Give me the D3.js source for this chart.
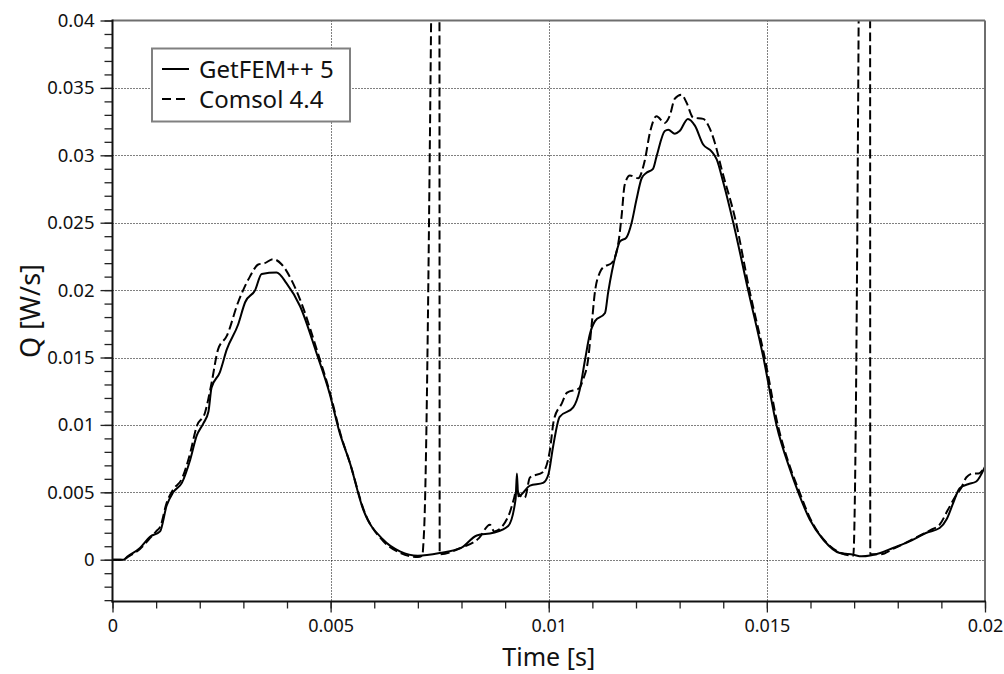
<!DOCTYPE html>
<html>
<head>
<meta charset="utf-8">
<script src="https://cdn.jsdelivr.net/npm/d3@7"></script>
<style>
body { margin: 0; background: #fff; }
text { font-family: "Noto Sans", sans-serif; fill: #111; }
</style>
</head>
<body>
<script>
//data: [time (s), Q (W/s)]
var getfem = [
    [0, 0], [0.00025, 0], [0.00035, 0.00025], [0.00063, 0.00087], [0.00086, 0.0017],
    [0.00109, 0.0021], [0.00124, 0.004], [0.00139, 0.005], [0.00159, 0.0057], [0.00178, 0.0074],
    [0.00193, 0.0092], [0.00208, 0.0101], [0.0022, 0.011], [0.00227, 0.01275], [0.00246, 0.0139],
    [0.00262, 0.0156], [0.00288, 0.01745], [0.00304, 0.0191], [0.00327, 0.02], [0.00342, 0.0212],
    [0.00376, 0.0213], [0.00399, 0.0205], [0.0043, 0.0188], [0.00468, 0.0153], [0.00498, 0.0123],
    [0.0052, 0.0095], [0.00544, 0.0072], [0.00575, 0.0037], [0.0062, 0.0015], [0.0066, 0.0006],
    [0.007, 0.0003], [0.0075, 0.0005], [0.008, 0.0009], [0.00835, 0.0018], [0.00873, 0.002],
    [0.00907, 0.0025], [0.00924, 0.0045], [0.00927, 0.0064], [0.0093, 0.0047], [0.00957, 0.0055],
    [0.00987, 0.0057], [0.00999, 0.0063], [0.0101, 0.0084], [0.01025, 0.0106], [0.01056, 0.0113],
    [0.01071, 0.0126], [0.01083, 0.0148], [0.01094, 0.0167], [0.01106, 0.0177], [0.01129, 0.0183],
    [0.01136, 0.0198], [0.01155, 0.0228], [0.01163, 0.0236], [0.01178, 0.0239], [0.0119, 0.025],
    [0.01201, 0.0267], [0.01213, 0.0283], [0.01224, 0.0287], [0.01239, 0.029], [0.01247, 0.0299],
    [0.01266, 0.0318], [0.01274, 0.0319], [0.01289, 0.0316], [0.013, 0.0318], [0.01319, 0.0327],
    [0.01335, 0.0322], [0.01354, 0.0308], [0.01373, 0.0303], [0.01385, 0.0297], [0.014, 0.028],
    [0.01423, 0.025], [0.01457, 0.02], [0.01492, 0.015], [0.01522, 0.01], [0.01553, 0.0067],
    [0.01572, 0.005], [0.01598, 0.003], [0.01629, 0.0015], [0.01667, 0.0005], [0.01698, 0.00037],
    [0.01717, 0.00025], [0.0176, 0.0005], [0.01789, 0.00087], [0.01827, 0.00136], [0.01866, 0.002],
    [0.01896, 0.00235], [0.01912, 0.003], [0.01927, 0.0042], [0.01942, 0.0053], [0.01961, 0.0056],
    [0.0198, 0.0058], [0.02, 0.0069]
];
var comsol = [
    [0, 0], [0.00025, 0], [0.00035, 0.0002], [0.00063, 0.0008], [0.00086, 0.0016],
    [0.001, 0.0021], [0.0011, 0.0025], [0.00124, 0.0042], [0.00139, 0.0052], [0.00159, 0.006],
    [0.00178, 0.0079], [0.00193, 0.0099], [0.00212, 0.0109], [0.00227, 0.0131], [0.00242, 0.0156],
    [0.00262, 0.0166], [0.00288, 0.0191], [0.00315, 0.021], [0.00334, 0.0219], [0.00349, 0.022],
    [0.00368, 0.0223], [0.00388, 0.0219], [0.00414, 0.0205], [0.0043, 0.0193], [0.0047, 0.0154],
    [0.005, 0.0122], [0.00522, 0.0094], [0.00545, 0.0071], [0.00577, 0.0036], [0.0062, 0.0014],
    [0.0066, 0.0005], [0.007, 0.0002], [0.0071, 0.0003], [0.00714, 0.002], [0.00749, 0.08],
    [0.0075, 0.0004], [0.008, 0.0009], [0.0084, 0.0016], [0.00865, 0.0026], [0.00875, 0.0021],
    [0.00907, 0.0032], [0.0092, 0.0045], [0.00926, 0.0052], [0.00933, 0.0048], [0.00945, 0.0046],
    [0.00957, 0.0061], [0.00987, 0.0065], [0.01002, 0.008], [0.01012, 0.0104], [0.0103, 0.0116],
    [0.01042, 0.0124], [0.01069, 0.0127], [0.01079, 0.0134], [0.0109, 0.0148], [0.01098, 0.0173],
    [0.01106, 0.0199], [0.01117, 0.0213], [0.01125, 0.0217], [0.01144, 0.022], [0.0116, 0.0236],
    [0.01167, 0.0255], [0.01174, 0.0278], [0.01186, 0.0285], [0.01205, 0.0283], [0.0122, 0.0296],
    [0.01232, 0.0317], [0.01247, 0.0329], [0.01266, 0.0324], [0.01277, 0.0329], [0.01289, 0.0342],
    [0.01304, 0.0345], [0.01316, 0.0339], [0.01331, 0.0328], [0.01354, 0.0327], [0.01366, 0.0322],
    [0.01381, 0.0309], [0.01396, 0.029], [0.01428, 0.0252], [0.0146, 0.02], [0.01495, 0.015],
    [0.01525, 0.01], [0.01555, 0.0067], [0.01575, 0.005], [0.016, 0.003], [0.0163, 0.0015],
    [0.0167, 0.0005], [0.01698, 0.0003], [0.01736, 0.16], [0.01737, 0.0004], [0.0176, 0.0004],
    [0.01789, 0.0008], [0.01827, 0.0014], [0.01875, 0.0022], [0.01896, 0.0026], [0.01915, 0.0037],
    [0.01934, 0.0048], [0.01945, 0.0053], [0.01957, 0.0061], [0.01973, 0.0064], [0.01985, 0.0064],
    [0.01996, 0.0067], [0.02, 0.0069]
];
var xTicks = [0, 0.005, 0.01, 0.015, 0.02];
var xTickLabels = ["0", "0.005", "0.01", "0.015", "0.02"];
var yTicks = [0, 0.005, 0.01, 0.015, 0.02, 0.025, 0.03, 0.035, 0.04];
var yTickLabels = ["0", "0.005", "0.01", "0.015", "0.02", "0.025", "0.03", "0.035", "0.04"];
var legendLabels = ["GetFEM++ 5", "Comsol 4.4"];

var width = 1004, height = 674;
var m = [20.5, 19, 72.5, 112.5]; //top right bottom left
var x0 = m[3], x1 = width - m[1], yTop = m[0], yBot = height - m[2];

//scales
var x = d3.scaleLinear().domain([0, 0.02]).range([x0, x1]);
var y = d3.scaleLinear().domain([-0.0031, 0.04]).range([yBot, yTop]);

var chart = d3.select("body").append("svg")
    .attr("width", width)
    .attr("height", height);

chart.append("defs").append("clipPath")
    .attr("id", "clip")
    .append("rect")
    .attr("x", x0).attr("y", yTop)
    .attr("width", x1 - x0).attr("height", yBot - yTop);

//dotted grid
chart.append("g").selectAll("line")
    .data(yTicks.filter(function (d) { return d < 0.04; }))
    .enter().append("line")
    .attr("x1", x0).attr("x2", x1)
    .attr("y1", function (d) { return Math.round(y(d)) + 0.5; })
    .attr("y2", function (d) { return Math.round(y(d)) + 0.5; })
    .attr("stroke", "#000").attr("stroke-dasharray", "1,2");
chart.append("g").selectAll("line")
    .data(xTicks.filter(function (d) { return d > 0 && d < 0.02; }))
    .enter().append("line")
    .attr("y1", yTop).attr("y2", yBot)
    .attr("x1", function (d) { return Math.round(x(d)) + 0.5; })
    .attr("x2", function (d) { return Math.round(x(d)) + 0.5; })
    .attr("stroke", "#000").attr("stroke-dasharray", "1,2");

//curves
var line = d3.line()
    .x(function (d) { return x(d[0]); })
    .y(function (d) { return y(d[1]); })
    .curve(d3.curveMonotoneX);
var curves = chart.append("g").attr("clip-path", "url(#clip)");
curves.append("path").datum(comsol)
    .attr("d", line).attr("fill", "none")
    .attr("stroke", "#000").attr("stroke-width", 2)
    .attr("stroke-dasharray", "9,4");
curves.append("path").datum(getfem)
    .attr("d", line).attr("fill", "none")
    .attr("stroke", "#000").attr("stroke-width", 2);

//axes
var xMinor = d3.range(0, 21).map(function (i) { return i / 1000; });
var yMinor = d3.range(-3, 41).map(function (i) { return i / 1000; });

chart.append("g").attr("transform", "translate(0," + yBot + ")")
    .call(d3.axisBottom(x).tickValues(xMinor).tickSize(7).tickSizeOuter(0).tickFormat(""));
var xAxis = chart.append("g").attr("transform", "translate(0," + yBot + ")")
    .call(d3.axisBottom(x).tickValues(xTicks).tickSize(11).tickSizeOuter(0).tickPadding(7)
        .tickFormat(function (d, i) { return xTickLabels[i]; }));
chart.append("g").attr("transform", "translate(" + x0 + ",0)")
    .call(d3.axisLeft(y).tickValues(yMinor).tickSize(8).tickSizeOuter(0).tickFormat(""));
var yAxis = chart.append("g").attr("transform", "translate(" + x0 + ",0)")
    .call(d3.axisLeft(y).tickValues(yTicks).tickSize(12).tickSizeOuter(0).tickPadding(6)
        .tickFormat(function (d, i) { return yTickLabels[i]; }));

chart.selectAll(".domain").remove();
chart.selectAll(".tick line").attr("stroke", "#222").attr("stroke-width", 1.3);
yAxis.selectAll(".tick text").style("font-size", "18.5px").attr("fill", "#111");
xAxis.selectAll(".tick text").style("font-size", "18px").attr("fill", "#111");

//frame
chart.append("line").attr("x1", x0).attr("x2", x1).attr("y1", yTop).attr("y2", yTop)
    .attr("stroke", "#6e6e6e").attr("stroke-width", 2);
chart.append("line").attr("x1", x1).attr("x2", x1).attr("y1", yTop).attr("y2", yBot)
    .attr("stroke", "#6e6e6e").attr("stroke-width", 2);
chart.append("line").attr("x1", x0).attr("x2", x0).attr("y1", yTop - 1).attr("y2", yBot + 1)
    .attr("stroke", "#111").attr("stroke-width", 2);
chart.append("line").attr("x1", x0 - 1).attr("x2", x1 + 1).attr("y1", yBot).attr("y2", yBot)
    .attr("stroke", "#111").attr("stroke-width", 2);

//axis titles
chart.append("text")
    .attr("x", (x0 + x1) / 2).attr("y", 666)
    .attr("text-anchor", "middle")
    .style("font-size", "25px")
    .text("Time [s]");
chart.append("text")
    .attr("transform", "translate(40," + (yTop + yBot) / 2 + ") rotate(-90)")
    .attr("text-anchor", "middle")
    .style("font-size", "27px")
    .text("Q [W/s]");

//legend
var legend = chart.append("g");
legend.append("rect")
    .attr("x", 152).attr("y", 48.5)
    .attr("width", 198).attr("height", 73)
    .attr("fill", "#fff").attr("stroke", "#808080").attr("stroke-width", 2);
legend.selectAll("line")
    .data(legendLabels)
    .enter().append("line")
    .attr("x1", 162).attr("x2", 189)
    .attr("y1", function (d, i) { return 69 + i * 30; })
    .attr("y2", function (d, i) { return 69 + i * 30; })
    .attr("stroke", "#000").attr("stroke-width", 2)
    .attr("stroke-dasharray", function (d, i) { return i ? "9,5" : null; });
legend.selectAll("text")
    .data(legendLabels)
    .enter().append("text")
    .attr("x", 199)
    .attr("y", function (d, i) { return 78 + i * 30; })
    .style("font-size", "24px")
    .text(function (d) { return d; });
</script>
</body>
</html>
